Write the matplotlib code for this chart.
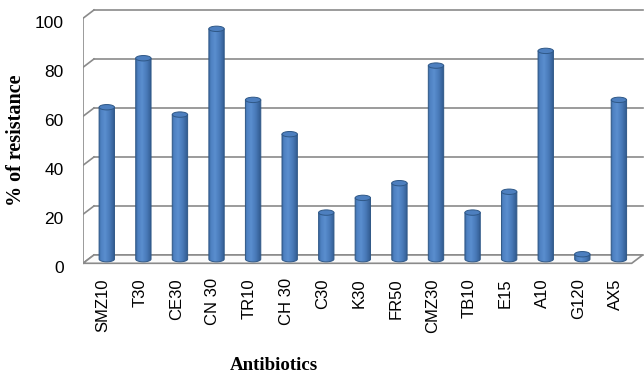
import numpy as np
import matplotlib
matplotlib.use("Agg")
import matplotlib.pyplot as plt
from matplotlib.patches import Polygon, Ellipse
from matplotlib.transforms import ScaledTranslation

# Resistance (%) per antibiotic disc
antibiotics = ["SMZ10", "T30", "CE30", "CN 30", "TR10", "CH 30", "C30", "K30",
               "FR50", "CMZ30", "TB10", "E15", "A10", "G120", "AX5"]
resistance = [62, 82, 59, 94, 65, 51, 19, 25, 31, 79, 19, 27.5, 85, 2, 65]
y_ticks = [0, 20, 40, 60, 80, 100]

# pseudo-3D geometry (category units / value units)
DX, DY = 0.30, 3.4          # depth offset of the back wall
BAR_W = 0.42                # cylinder diameter
ELL_H = 2.2                 # height of the elliptical caps
GRID_C = "#8a8a8a"

fig = plt.figure(figsize=(6.44, 3.76), dpi=100)
ax = fig.add_axes([83 / 644, 1 - 270 / 376, 561 / 644, 267 / 376])
n = len(antibiotics)
x0, x1 = -0.5, n - 0.5

# back wall + left wall gridlines
for v in y_ticks:
    ax.plot([x0 + DX, x1 + DX], [v + DY, v + DY], color=GRID_C, lw=1.2, zorder=1)
    ax.plot([x0, x0 + DX], [v, v + DY], color=GRID_C, lw=1.2, zorder=1)
# vertical axis line (front edge of left wall)
ax.plot([x0, x0], [0, y_ticks[-1]], color=GRID_C, lw=1.2, zorder=1)

# floor
floor = Polygon([(x0, 0), (x1, 0), (x1 + DX, DY), (x0 + DX, DY)], closed=True,
                facecolor="#fbfbfb", edgecolor=GRID_C, lw=1.2, zorder=2)
ax.add_patch(floor)

# horizontal shading across a cylinder body
t = np.linspace(0, 1, 64)
stops_t = [0.0, 0.12, 0.38, 0.7, 1.0]
stops_c = np.array([[0x3b, 0x68, 0xa2], [0x4e, 0x81, 0xc1], [0x5a, 0x8e, 0xcf],
                    [0x47, 0x78, 0xb6], [0x30, 0x58, 0x8c]]) / 255.0
grad = np.stack([np.interp(t, stops_t, stops_c[:, k]) for k in range(3)], axis=-1)[None, :, :]

theta = np.linspace(np.pi, 2 * np.pi, 40)
for i, v in enumerate(resistance):
    xc = i + DX / 2
    base = DY / 2
    top = v + DY / 2
    # body outline: straight sides, rounded bottom
    xs = list(xc + BAR_W / 2 * np.cos(theta))
    ys = list(base + ELL_H / 2 * np.sin(theta))
    pts = [(xc - BAR_W / 2, top)] + list(zip(xs, ys)) + [(xc + BAR_W / 2, top)]
    body = Polygon(pts, closed=True, facecolor="none", edgecolor="#2f5887",
                   lw=0.7, zorder=4 + i * 0.01)
    ax.add_patch(body)
    im = ax.imshow(grad, extent=[xc - BAR_W / 2, xc + BAR_W / 2, base - ELL_H / 2, top],
                   aspect="auto", interpolation="bilinear", zorder=3 + i * 0.01)
    im.set_clip_path(body)
    cap = Ellipse((xc, top), BAR_W, ELL_H, facecolor="#4d7fbf", edgecolor="#2f5887",
                  lw=0.7, zorder=5 + i * 0.01)
    ax.add_patch(cap)

ax.set_aspect("auto")
ax.set_xlim(x0, x0 + 561 / 36.58)
ax.set_ylim((263.3 - 270) / 2.45, (263.3 - 3) / 2.45)

for s in ax.spines.values():
    s.set_visible(False)
ax.set_yticks(y_ticks)
ax.set_yticklabels([str(v) for v in y_ticks], fontsize=12.5, family="Liberation Sans")
ax.set_xticks(np.arange(n) + 0.05)
ax.set_xticklabels(antibiotics, rotation=90, fontsize=12, family="Liberation Sans")
ax.tick_params(axis="y", length=0, pad=14)
ax.tick_params(axis="x", length=0, pad=6)
shift = ScaledTranslation(0, -3.5 / 100, fig.dpi_scale_trans)
for lbl in ax.get_yticklabels():
    lbl.set_transform(lbl.get_transform() + shift)
for lbl in ax.get_xticklabels():
    lbl.set_va("top")

fig.text(16.5 / 644, 1 - 140 / 376, "% of resistance", rotation=90, ha="center",
         va="center", fontsize=14.5, fontweight="bold", family="Liberation Serif")
fig.text(274 / 644, 1 - 365 / 376, "Antibiotics", ha="center", va="center",
         fontsize=13.6, fontweight="bold", family="Liberation Serif")

fig.savefig("out.png", dpi=100)
